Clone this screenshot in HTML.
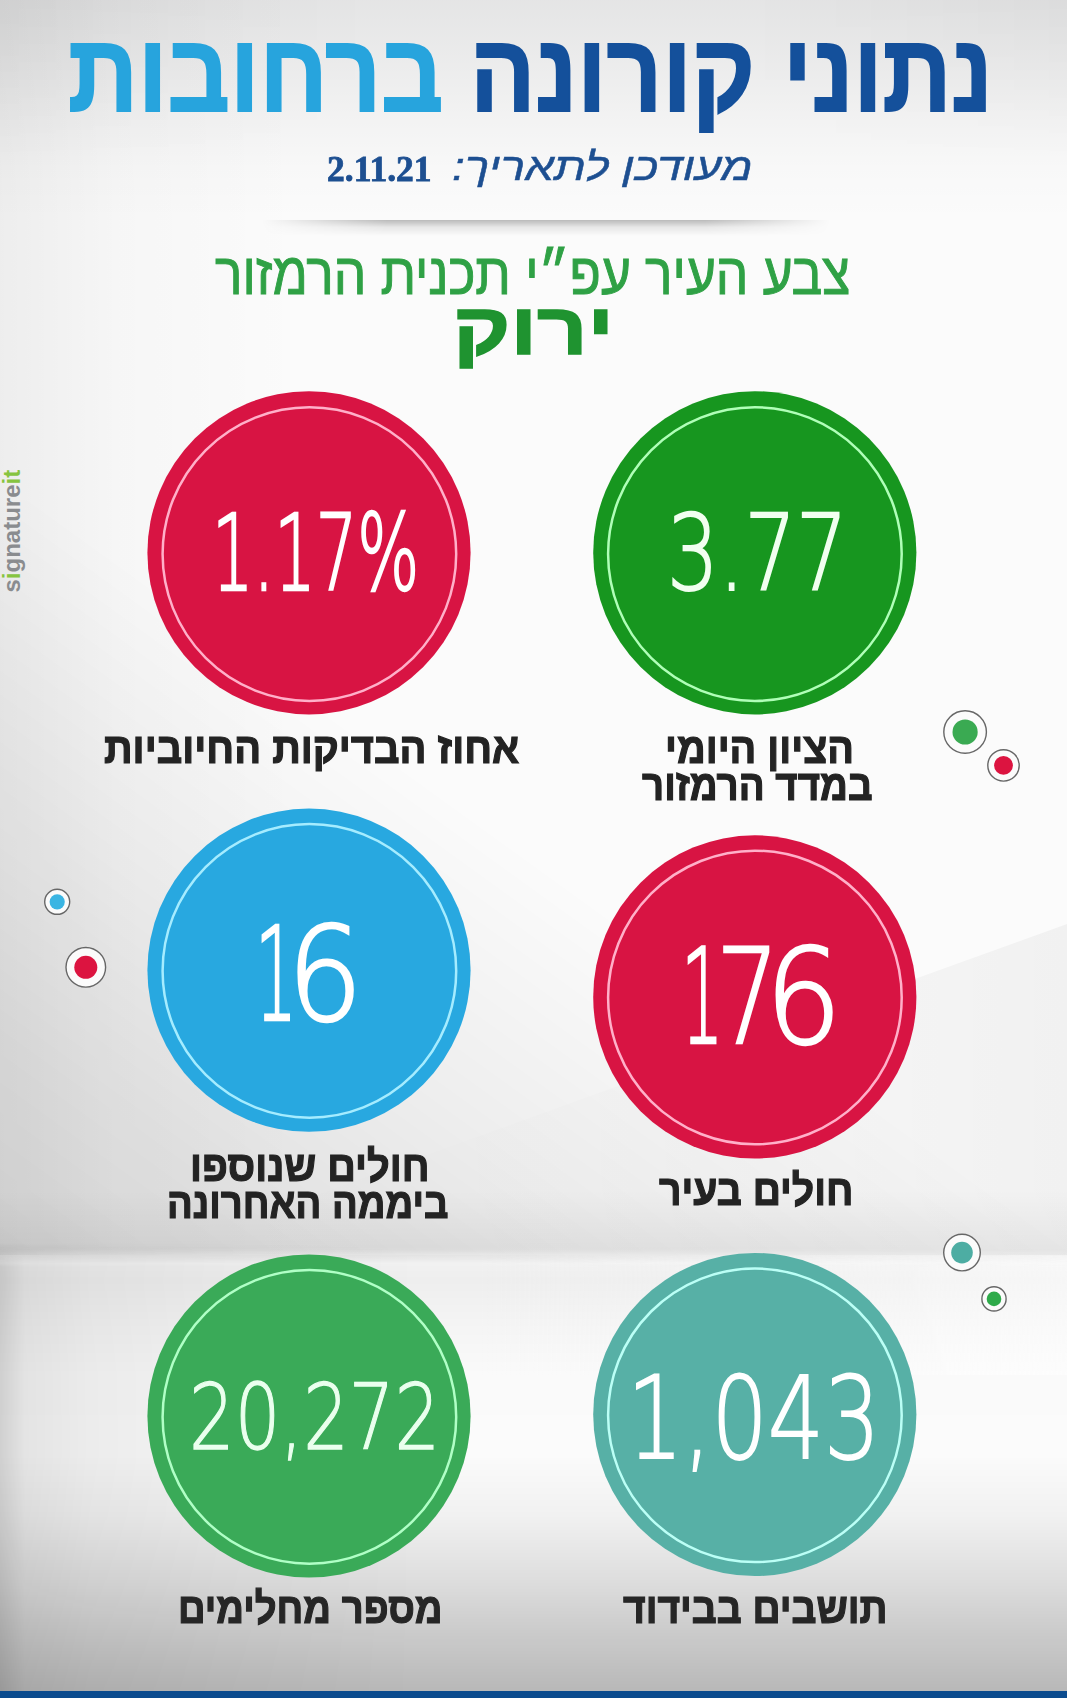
<!DOCTYPE html>
<html lang="he"><head><meta charset="utf-8"><title>נתוני קורונה ברחובות</title>
<style>
html,body{margin:0;padding:0;background:#fff}
#page{position:relative;width:1067px;height:1698px;overflow:hidden;background:#fbfbfb;}
.bg{position:absolute;left:0;top:0;width:1067px;height:1698px}
.art{position:absolute;left:0;top:0}
#bar{position:absolute;left:0;top:1691px;width:1067px;height:7px;background:#0b4b8e}
#shadow{position:absolute;left:262px;top:220px;width:568px;height:16px;background:linear-gradient(to bottom,rgba(0,0,0,.26),rgba(0,0,0,.08) 45%,rgba(0,0,0,0));-webkit-mask-image:linear-gradient(to right,transparent,#000 22%,#000 78%,transparent);mask-image:linear-gradient(to right,transparent,#000 22%,#000 78%,transparent)}
#logo{position:absolute;left:0;top:0;font-family:"Liberation Sans",sans-serif;font-weight:700;font-size:24px;line-height:1;color:#8a8c8f;white-space:nowrap;transform-origin:0 0;transform:translate(-0.5px,592.5px) rotate(-90deg)}
#logo b{color:#86c440}
</style></head><body>
<div id="page">
<div class="bg" style="height:260px;background:linear-gradient(to bottom,rgba(0,5,10,.09) 0,rgba(0,5,10,.06) 70px,rgba(0,5,10,.03) 125px,rgba(0,5,10,.012) 170px,rgba(0,0,0,0) 220px)"></div>
<div class="bg" style="height:160px;background:linear-gradient(to right,rgba(0,0,0,.04),rgba(0,0,0,0) 35%,rgba(0,0,0,0) 70%,rgba(0,0,0,.035));-webkit-mask-image:linear-gradient(to bottom,#000,transparent);mask-image:linear-gradient(to bottom,#000,transparent)"></div>
<div class="bg" style="height:1255px;background:linear-gradient(to right,rgba(0,0,0,.055),rgba(0,0,0,.02) 120px,rgba(0,0,0,0) 300px)"></div>
<div class="bg" style="top:500px;height:770px;background:linear-gradient(to top right,rgba(0,0,0,.135) 0%,rgba(0,0,0,.1) 15%,rgba(0,0,0,.05) 32%,rgba(0,0,0,0) 52%);-webkit-mask-image:linear-gradient(to bottom,#000 748px,transparent 764px);mask-image:linear-gradient(to bottom,#000 748px,transparent 764px)"></div>
<div class="bg" style="top:1190px;height:74px;background:linear-gradient(to bottom,rgba(0,0,0,0),rgba(0,0,0,.05) 60px,rgba(0,0,0,0) 74px)"></div>
<svg class="art" width="1067" height="1698" viewBox="0 0 1067 1698"><defs><linearGradient id="wg" x1="0" y1="0" x2="1" y2="0"><stop offset="0" stop-color="#000" stop-opacity="0"/><stop offset=".45" stop-color="#000" stop-opacity=".008"/><stop offset=".8" stop-color="#000" stop-opacity=".028"/><stop offset="1" stop-color="#000" stop-opacity=".04"/></linearGradient></defs><polygon points="150,1255 1067,924 1067,1255" fill="url(#wg)"/></svg>
<div class="bg" style="top:1243px;height:448px;-webkit-mask-image:linear-gradient(to bottom,transparent 0,#000 24px);mask-image:linear-gradient(to bottom,transparent 0,#000 24px)">
<div class="bg" style="top:12px;height:436px;background:linear-gradient(to bottom,rgba(0,0,0,.035) 0,rgba(0,0,0,.05) 25px,rgba(0,0,0,.025) 75px,rgba(0,0,0,.005) 120px,rgba(0,0,0,0) 200px,rgba(0,0,0,.04) 260px,rgba(0,0,0,.12) 330px,rgba(0,0,0,.2) 385px,rgba(0,0,0,.265) 436px)"></div>
<div class="bg" style="top:0;height:448px;background:linear-gradient(to right,rgba(0,0,0,.17),rgba(0,0,0,.09) 25px,rgba(0,0,0,.06) 90px,rgba(0,0,0,.03) 220px,rgba(0,0,0,0) 420px)"></div>
<div class="bg" style="top:12px;height:120px;background:linear-gradient(to left,rgba(255,255,255,.5),rgba(255,255,255,0) 55%)"></div>
</div>
<div id="shadow"></div>
<svg class="art" width="1067" height="1698" viewBox="0 0 1067 1698"><circle cx="309" cy="552.8" r="161.6" fill="#d81443"/><circle cx="309.4" cy="554.1" r="146.8" fill="none" stroke="#ffb0c9" stroke-width="2.5"/><circle cx="754.8" cy="552.8" r="161.6" fill="#17961f"/><circle cx="754.9" cy="554.1" r="146.8" fill="none" stroke="#b0ffb8" stroke-width="2.5"/><circle cx="309" cy="970.2" r="161.6" fill="#28a8e0"/><circle cx="309.4" cy="970.9" r="146.8" fill="none" stroke="#a5ecff" stroke-width="2.5"/><circle cx="754.8" cy="996.9" r="161.6" fill="#d81443"/><circle cx="754.9" cy="997.5" r="146.8" fill="none" stroke="#ffb0c9" stroke-width="2.5"/><circle cx="309" cy="1416" r="161.6" fill="#3aaa58"/><circle cx="309.4" cy="1416.9" r="146.8" fill="none" stroke="#b0ffc6" stroke-width="2.5"/><circle cx="754.8" cy="1414.5" r="161.6" fill="#57b0a6"/><circle cx="754.9" cy="1415.3" r="146.8" fill="none" stroke="#bbfff6" stroke-width="2.5"/><circle cx="965.1" cy="732" r="21.3" fill="#fbfbfb" stroke="#676767" stroke-width="1.4"/><circle cx="965.1" cy="732" r="12.6" fill="#3aaa52"/><circle cx="1003.5" cy="765.4" r="15.7" fill="#fbfbfb" stroke="#676767" stroke-width="1.4"/><circle cx="1003.5" cy="765.4" r="9.4" fill="#dc1440"/><circle cx="57.2" cy="901.8" r="12.5" fill="#fbfbfb" stroke="#676767" stroke-width="1.4"/><circle cx="57.2" cy="901.8" r="7.6" fill="#3ab5e3"/><circle cx="85.8" cy="967.3" r="19.8" fill="#fbfbfb" stroke="#676767" stroke-width="1.4"/><circle cx="85.8" cy="967.3" r="11.5" fill="#dc1440"/><circle cx="962" cy="1252.6" r="18.3" fill="#fbfbfb" stroke="#676767" stroke-width="1.4"/><circle cx="962" cy="1252.6" r="10.8" fill="#4dada3"/><circle cx="994" cy="1298.9" r="12.100000000000001" fill="#fbfbfb" stroke="#676767" stroke-width="1.4"/><circle cx="994" cy="1298.9" r="7.3" fill="#2eaa4a"/></svg>
<div id="logo">s<b>i</b>gnature<b>it</b></div>
<div id="t1" style='position:absolute;left:782.5px;top:17.5px;font-family:"Liberation Sans", sans-serif;font-weight:700;font-style:normal;font-size:110.5px;line-height:1;white-space:nowrap;color:#14509b;-webkit-text-stroke:2px #14509b;transform-origin:0 0;transform:scaleX(0.8695);direction:rtl;'>נתוני</div>
<div id="t2" style='position:absolute;left:469.9px;top:17.5px;font-family:"Liberation Sans", sans-serif;font-weight:700;font-style:normal;font-size:110.5px;line-height:1;white-space:nowrap;color:#14509b;-webkit-text-stroke:2px #14509b;transform-origin:0 0;transform:scaleX(0.8773);direction:rtl;'>קורונה</div>
<div id="t3" style='position:absolute;left:67.9px;top:17.5px;font-family:"Liberation Sans", sans-serif;font-weight:700;font-style:normal;font-size:110.5px;line-height:1;white-space:nowrap;color:#27a4dd;-webkit-text-stroke:2px #27a4dd;transform-origin:0 0;transform:scaleX(0.8833);direction:rtl;'>ברחובות</div>
<div id="s1" style='position:absolute;left:451.8px;top:147.4px;font-family:"Liberation Sans", sans-serif;font-weight:400;font-style:italic;font-size:39px;line-height:1;white-space:nowrap;color:#1d4f91;-webkit-text-stroke:.5px #1d4f91;transform-origin:0 0;transform:scaleX(1.1825);direction:rtl;'>מעודכן לתאריך:</div>
<div id="s2" style='position:absolute;left:327.0px;top:151.5px;font-family:"Liberation Serif", serif;font-weight:700;font-style:normal;font-size:35px;line-height:1;white-space:nowrap;color:#1d4f91;-webkit-text-stroke:.8px #1d4f91;transform-origin:0 0;transform:scaleX(1.0149);'>2.11.21</div>
<div id="g1" style='position:absolute;left:215.1px;top:244.6px;font-family:"Liberation Sans", sans-serif;font-weight:400;font-style:normal;font-size:58.4px;line-height:1;white-space:nowrap;color:#2fa145;-webkit-text-stroke:1px #2fa145;transform-origin:0 0;transform:scaleX(0.8804);direction:rtl;'>צבע העיר עפ״י תכנית הרמזור</div>
<div id="g2" style='position:absolute;left:453.2px;top:292.7px;font-family:"Liberation Sans", sans-serif;font-weight:700;font-style:normal;font-size:73.2px;line-height:1;white-space:nowrap;color:#1f9330;-webkit-text-stroke:1.6px #1f9330;transform-origin:0 0;transform:scaleX(1.2000);direction:rtl;'>ירוק</div>
<div id="l1" style='position:absolute;left:103.9px;top:727.4px;font-family:"Liberation Sans", sans-serif;font-weight:700;font-style:normal;font-size:43.6px;line-height:1;white-space:nowrap;color:#232323;-webkit-text-stroke:1.2px #232323;transform-origin:0 0;transform:scaleX(0.9143);direction:rtl;'>אחוז הבדיקות החיוביות</div>
<div id="l2a" style='position:absolute;left:664.8px;top:727.4px;font-family:"Liberation Sans", sans-serif;font-weight:700;font-style:normal;font-size:43.6px;line-height:1;white-space:nowrap;color:#232323;-webkit-text-stroke:1.2px #232323;transform-origin:0 0;transform:scaleX(0.9084);direction:rtl;'>הציון היומי</div>
<div id="l2b" style='position:absolute;left:642.0px;top:764.1px;font-family:"Liberation Sans", sans-serif;font-weight:700;font-style:normal;font-size:43.6px;line-height:1;white-space:nowrap;color:#232323;-webkit-text-stroke:1.2px #232323;transform-origin:0 0;transform:scaleX(0.8812);direction:rtl;'>במדד הרמזור</div>
<div id="l3a" style='position:absolute;left:190.3px;top:1145.1px;font-family:"Liberation Sans", sans-serif;font-weight:700;font-style:normal;font-size:43.6px;line-height:1;white-space:nowrap;color:#232323;-webkit-text-stroke:1.2px #232323;transform-origin:0 0;transform:scaleX(0.9105);direction:rtl;'>חולים שנוספו</div>
<div id="l3b" style='position:absolute;left:167.4px;top:1182.4px;font-family:"Liberation Sans", sans-serif;font-weight:700;font-style:normal;font-size:43.6px;line-height:1;white-space:nowrap;color:#232323;-webkit-text-stroke:1.2px #232323;transform-origin:0 0;transform:scaleX(0.8758);direction:rtl;'>ביממה האחרונה</div>
<div id="l4" style='position:absolute;left:659.0px;top:1169.1px;font-family:"Liberation Sans", sans-serif;font-weight:700;font-style:normal;font-size:43.6px;line-height:1;white-space:nowrap;color:#232323;-webkit-text-stroke:1.2px #232323;transform-origin:0 0;transform:scaleX(0.8972);direction:rtl;'>חולים בעיר</div>
<div id="l5" style='position:absolute;left:178.1px;top:1587.4px;font-family:"Liberation Sans", sans-serif;font-weight:700;font-style:normal;font-size:43.6px;line-height:1;white-space:nowrap;color:#262626;-webkit-text-stroke:1.2px #262626;transform-origin:0 0;transform:scaleX(0.8760);direction:rtl;'>מספר מחלימים</div>
<div id="l6" style='position:absolute;left:623.0px;top:1587.4px;font-family:"Liberation Sans", sans-serif;font-weight:700;font-style:normal;font-size:43.6px;line-height:1;white-space:nowrap;color:#262626;-webkit-text-stroke:1.2px #262626;transform-origin:0 0;transform:scaleX(0.8932);direction:rtl;'>תושבים בבידוד</div>
<div id="n1" style='position:absolute;left:211.8px;top:502.2px;font-family:"DejaVu Sans", "Liberation Sans", sans-serif;font-weight:200;font-style:normal;font-size:105px;line-height:1;white-space:nowrap;color:#fff;-webkit-text-stroke:2.5px #fff;transform-origin:0 0;transform:scaleX(0.6215);'>1.17%</div>
<div id="n2" style='position:absolute;left:667.4px;top:502.2px;font-family:"DejaVu Sans", "Liberation Sans", sans-serif;font-weight:200;font-style:normal;font-size:105px;line-height:1;white-space:nowrap;color:#f1fff0;-webkit-text-stroke:2px #f1fff0;transform-origin:0 0;transform:scaleX(0.7731);'>3.77</div>
<div id="n3" style='position:absolute;left:254.9px;top:910.0px;font-family:"DejaVu Sans", "Liberation Sans", sans-serif;font-weight:200;font-style:normal;font-size:130px;line-height:1;white-space:nowrap;color:#fff;-webkit-text-stroke:2.5px #fff;'><span style="display:inline-block;width:32.0px;transform-origin:0 0;transform:scaleX(0.5089)">1</span><span style="display:inline-block;transform-origin:0 0;transform:scaleX(0.9194)">6</span></div>
<div id="n4" style='position:absolute;left:681.4px;top:931.8px;font-family:"DejaVu Sans", "Liberation Sans", sans-serif;font-weight:200;font-style:normal;font-size:131px;line-height:1;white-space:nowrap;color:#fff;-webkit-text-stroke:2.5px #fff;'><span style="display:inline-block;width:34.4px;transform-origin:0 0;transform:scaleX(0.5107)">1</span><span style="display:inline-block;width:49.7px;transform-origin:0 0;transform:scaleX(0.7600)">7</span><span style="display:inline-block;transform-origin:0 0;transform:scaleX(0.9242)">6</span></div>
<div id="n5" style='position:absolute;left:189.3px;top:1371.6px;font-family:"DejaVu Sans", "Liberation Sans", sans-serif;font-weight:200;font-style:normal;font-size:91.5px;line-height:1;white-space:nowrap;color:#eaffee;-webkit-text-stroke:1.3px #eaffee;transform-origin:0 0;transform:scaleX(0.7843);'>20,272</div>
<div id="n6" style='position:absolute;left:627.4px;top:1361.6px;font-family:"DejaVu Sans", "Liberation Sans", sans-serif;font-weight:200;font-style:normal;font-size:114px;line-height:1;white-space:nowrap;color:#fff;-webkit-text-stroke:1.8px #fff;transform-origin:0 0;transform:scaleX(0.7759);'>1,043</div>
<div id="bar"></div>
</div>
</body></html>
